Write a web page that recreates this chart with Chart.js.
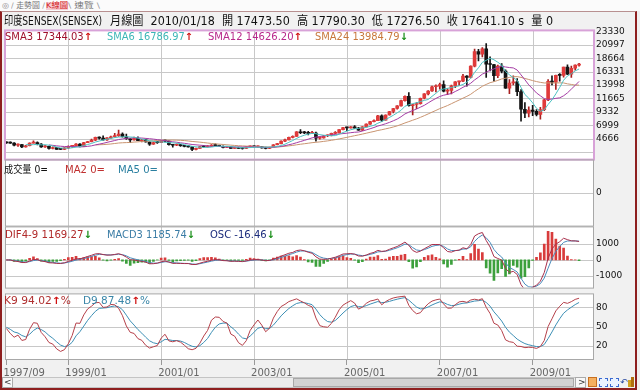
<!DOCTYPE html>
<html>
<head>
<meta charset="utf-8">
<script src="https://cdn.jsdelivr.net/npm/chart.js@4.4.1/dist/chart.umd.min.js"></script>
<style>
  body { margin: 0; width: 640px; height: 390px; position: relative; overflow: hidden; background: #f1f1f1;
         font-family: "DejaVu Sans", "Noto Sans CJK TC", sans-serif; }
  .t { position: absolute; white-space: pre; line-height: 1; }
  canvas { position: absolute; left: 0; }
  .box { position: absolute; box-sizing: border-box; }
</style>
</head>
<body>
<div class="box" style="left:0;top:0;width:640px;height:11px;background:#fbfbfb"></div>
<div class="box" style="left:0;top:11px;width:637px;height:379px;border:2px solid #8e1f1f;border-top:1px solid #b89090"></div>

<canvas id="c1" width="640" height="144" style="top:23px"></canvas>
<canvas id="c2" width="640" height="82" style="top:152px"></canvas>
<canvas id="c3" width="640" height="77" style="top:219px"></canvas>
<canvas id="c4" width="640" height="95" style="top:286px"></canvas>

<script>
// 月線 OHLC，1997/09 ~ 2010/01
const opens = [
  4075, 3943, 3900, 3550,
  3658, 3224, 3437, 3893, 4006, 3730, 3250, 3350, 2960, 3108, 2812, 2810,
  3055, 3315, 3400, 3740, 3320, 3976, 4141, 4420, 4900, 4765, 4444, 4800,
  5005, 5205, 5447, 5001, 4657, 4433, 4748, 4300, 4477, 4090, 3711, 3998,
  3972, 4326, 4247, 3604, 3519, 3632, 3457, 3329, 3245, 2811, 2989, 3287,
  3262, 3311, 3562, 3469, 3338, 3125, 3245, 2988, 3181, 2991, 2950, 3229,
  3377, 3250, 3283, 3049, 2960, 3181, 3607, 3792, 4245, 4453, 4906, 5044,
  5839, 5696, 5668, 5591, 5655, 4760, 4795, 5170, 5192, 5584, 5672, 6234,
  6603, 6556, 6714, 6493, 6154, 6715, 7194, 7635, 7805, 8634, 7892, 8789,
  9398, 9920, 10370, 11280, 12043, 10399, 10609, 10744, 11699, 12454, 12962, 13696,
  13787, 14091, 12938, 13072, 13872, 14544, 14651, 15551, 15319, 17291, 19838, 19363,
  20287, 17649, 17579, 15644, 17287, 16416, 13462, 14356, 14565, 12860, 9788, 9093,
  9647, 9424, 8892, 9709, 11403, 14625, 14494, 15670, 15667, 17127, 15896, 16926,
  17473.5
];
const highs = [
  4100, 4120, 3980, 3750,
  3700, 3500, 3950, 4281, 4100, 3800, 3520, 3370, 3250, 3150, 3000, 3100,
  3400, 3450, 3800, 3800, 4050, 4200, 4600, 4950, 5000, 5150, 4850, 5100,
  5600, 6150, 5700, 5450, 4700, 4950, 5000, 4560, 4600, 4100, 4100, 4200,
  4400, 4462, 4300, 3650, 3750, 3650, 3530, 3450, 3350, 3050, 3350, 3500,
  3480, 3650, 3760, 3550, 3400, 3300, 3300, 3200, 3200, 3050, 3250, 3420,
  3430, 3400, 3320, 3200, 3200, 3650, 3850, 4290, 4600, 4960, 5150, 5920,
  6250, 5950, 5950, 5930, 5800, 4980, 5250, 5350, 5620, 5900, 6250, 6650,
  6700, 6780, 6960, 6650, 6760, 7230, 7700, 7925, 8720, 8820, 8830, 9440,
  9950, 10430, 11360, 12100, 12670, 10650, 10950, 11750, 12500, 13050, 13800, 14030,
  14350, 14720, 13400, 14000, 14600, 14700, 15870, 15650, 17360, 20240, 20200, 20500,
  21206, 18900, 17600, 17480, 17735, 16630, 14950, 15580, 15100, 13200, 10950, 10190,
  10470, 9725, 10127, 11492, 14931, 15600, 15733, 16002, 17142, 17493, 17290, 17530,
  17790.3
];
const lows = [
  3830, 3850, 3390, 3300,
  3100, 3180, 3400, 3880, 3580, 3160, 3150, 2850, 2900, 2800, 2750, 2760,
  2950, 3150, 3350, 3250, 3300, 3950, 4100, 4300, 4600, 4400, 4350, 4700,
  4950, 5050, 4950, 4550, 3960, 4400, 4300, 4100, 4050, 3490, 3650, 3850,
  3950, 4100, 3550, 3180, 3450, 3300, 3250, 3200, 2600, 2720, 2950, 3170,
  3200, 3280, 3450, 3300, 3050, 3080, 2950, 2970, 2980, 2830, 2940, 3200,
  3220, 3200, 3030, 2900, 2930, 3170, 3580, 3760, 4160, 4440, 4800, 5040,
  5550, 5550, 5300, 5550, 4230, 4600, 4750, 5020, 5150, 5550, 5650, 6200,
  6070, 6500, 6430, 6100, 6080, 6700, 7130, 7580, 7800, 7650, 7870, 8770,
  9160, 9800, 10300, 11200, 10300, 8800, 9900, 10650, 11600, 12300, 12900, 12800,
  13300, 12800, 12320, 12450, 13550, 13950, 14600, 13780, 15250, 17140, 18180, 18900,
  15330, 16450, 14680, 15300, 16100, 13405, 12514, 14000, 12150, 7697, 8316, 8467,
  8674, 8619, 8047, 9546, 11300, 14016, 13220, 14685, 15357, 15805, 15330, 16578,
  17276.5
];
const closes = [
  3943, 3900, 3550, 3658,
  3224, 3437, 3893, 4006, 3730, 3250, 3350, 2960, 3108, 2812, 2810, 3055,
  3315, 3400, 3740, 3320, 3976, 4141, 4420, 4900, 4765, 4444, 4800, 5005,
  5205, 5447, 5001, 4657, 4433, 4748, 4300, 4477, 4090, 3711, 3998, 3972,
  4326, 4247, 3604, 3519, 3632, 3457, 3329, 3245, 2811, 2989, 3287, 3262,
  3311, 3562, 3469, 3338, 3125, 3245, 2988, 3181, 2991, 2950, 3229, 3377,
  3250, 3283, 3049, 2960, 3181, 3607, 3792, 4245, 4453, 4906, 5044, 5839,
  5696, 5668, 5591, 5655, 4760, 4795, 5170, 5192, 5584, 5672, 6234, 6603,
  6556, 6714, 6493, 6154, 6715, 7194, 7635, 7805, 8634, 7892, 8789, 9398,
  9920, 10370, 11280, 12043, 10399, 10609, 10744, 11699, 12454, 12962, 13696, 13787,
  14091, 12938, 13072, 13872, 14544, 14651, 15551, 15319, 17291, 19838, 19363, 20287,
  17649, 17579, 15644, 17287, 16416, 13462, 14356, 14565, 12860, 9788, 9093, 9647,
  9424, 8892, 9709, 11403, 14625, 14494, 15670, 15667, 17127, 15896, 16926, 17465,
  17641.1
];

const xTickIdx = [0, 16, 40, 64, 88, 112, 136];
const xTickText = ["1997/09", "1999/01", "2001/01", "2003/01", "2005/01", "2007/01", "2009/01"];
const priceTicks = [2333, 4666, 6999, 9332, 11665, 13998, 16331, 18664, 20997, 23330];
const volTicks = [0];
const macdTicks = [1000, 0, -1000];
const kdTicks = [80, 50, 20];

const X_MIN = -0.1, X_MAX = 151.6;
const gridColor = "#c8c8c8";

// 指標計算
function sma(arr, n) {
  return arr.map((v, i) => {
    if (i < n - 1) return null;
    let s = 0;
    for (let j = i - n + 1; j <= i; j++) s += arr[j];
    return s / n;
  });
}
function ema(arr, n) {
  const k = 2 / (n + 1);
  let prev;
  return arr.map((v, i) => (prev = i === 0 ? v : prev + k * (v - prev)));
}

const di = closes.map((c, i) => (highs[i] + lows[i] + 2 * c) / 4);
const ema4 = ema(di, 4), ema9 = ema(di, 9);
const dif = ema4.map((v, i) => v - ema9[i]);
const macd = ema(dif, 3);
const osc = dif.map((v, i) => v - macd[i]);

const kLine = [], dLine = [];
let k = 50, d = 50;
closes.forEach((c, i) => {
  const s = Math.max(0, i - 8);
  const hh = Math.max(...highs.slice(s, i + 1));
  const ll = Math.min(...lows.slice(s, i + 1));
  const rsv = hh === ll ? 50 : ((c - ll) / (hh - ll)) * 100;
  k = (k * 2) / 3 + rsv / 3;
  d = (d * 2) / 3 + k / 3;
  kLine.push(k);
  dLine.push(d);
});

const pts = (arr) => arr.map((v, i) => ({ x: i, y: v }));

// 面板外框（底色與格線放在畫布下方的 HTML 層）
const panelFrame = {
  id: "panelFrame",
  afterDraw(chart, args, opts) {
    const { ctx, chartArea: a } = chart;
    const w = opts.width || 1;
    ctx.save();
    ctx.strokeStyle = opts.color || "#a0a0a0";
    ctx.lineWidth = w;
    ctx.strokeRect(a.left - w / 2, a.top - w / 2, a.right - a.left + w, a.bottom - a.top + w);
    ctx.restore();
  },
};
Chart.register(panelFrame);
Chart.defaults.font.family = "'DejaVu Sans', sans-serif";
Chart.defaults.animation = false;
Chart.defaults.events = [];
Chart.defaults.plugins.legend.display = false;
Chart.defaults.plugins.tooltip.enabled = false;

function xAxis(labels) {
  return {
    type: "linear",
    min: X_MIN,
    max: X_MAX,
    offset: false,
    afterBuildTicks: (s) => {
      s.ticks = xTickIdx.map((v) => ({ value: v }));
    },
    afterFit: (s) => {
      s.height = labels ? 22 : 0;
    },
    grid: { display: labels, drawOnChartArea: false, offset: false, drawTicks: labels, tickLength: 6, tickColor: "#999" },
    border: { display: false },
    ticks: {
      display: labels,
      align: "start",
      labelOffset: -3,
      padding: 2,
      autoSkip: false,
      maxRotation: 0,
      color: "#666",
      font: { size: 10 },
      callback: (v) => xTickText[xTickIdx.indexOf(v)],
    },
  };
}

function yAxis(ticks, min, max, hideLabel) {
  return {
    position: "right",
    min: min,
    max: max,
    afterBuildTicks: (s) => {
      s.ticks = ticks.map((v) => ({ value: v }));
    },
    afterFit: (s) => {
      s.width = 47;
    },
    grid: { display: false, drawTicks: false },
    border: { display: false },
    ticks: {
      padding: 3,
      color: "#111",
      font: { size: 9 },
      callback: (v) => (hideLabel && hideLabel(v) ? "" : v),
    },
  };
}

function panelOptions(frame, bottomPad, scales) {
  return {
    responsive: false,
    layout: { padding: { left: 6, right: 0, top: 8, bottom: bottomPad } },
    plugins: { panelFrame: frame },
    scales: scales,
  };
}

// K線圖
const upDay = closes.map((c, i) => c >= opens[i]);
const priceChart = new Chart(document.getElementById("c1"), {
  type: "bar",
  data: {
    datasets: [
      {
        type: "line", data: pts(sma(closes, 6)), borderColor: "#4cc2c2",
        borderWidth: 1, pointRadius: 0, order: 0,
      },
      {
        type: "line", data: pts(sma(closes, 12)), borderColor: "#a43ca4",
        borderWidth: 1, pointRadius: 0, order: 0,
      },
      {
        type: "line", data: pts(sma(closes, 24)), borderColor: "#c99470",
        borderWidth: 1, pointRadius: 0, order: 0,
      },
      {
        data: closes.map((c, i) => ({ x: i, y: [opens[i], c] })),
        backgroundColor: upDay.map((u) => (u ? "#e03a3a" : "#141414")),
        barThickness: 3, minBarLength: 1, grouped: false, order: 1,
      },
      {
        data: highs.map((h, i) => ({ x: i, y: [lows[i], h] })),
        backgroundColor: upDay.map((u) => (u ? "#a82020" : "#141414")),
        barThickness: 1, grouped: false, order: 2,
      },
    ],
  },
  options: panelOptions({ color: "#d8a2d8", width: 2 }, 8, {
    x: xAxis(false),
    y: yAxis(priceTicks, 1200, 23330, (v) => v === 2333),
  }),
});

// 成交量
const volChart = new Chart(document.getElementById("c2"), {
  type: "line",
  data: { datasets: [] },
  options: panelOptions({ color: "#a8a8a8", width: 1 }, 8, {
    x: xAxis(false),
    y: yAxis(volTicks, -1, 1),
  }),
});

// MACD
const oscMax = Math.max(...osc.map(Math.abs));
const oscTop = (oscMax * 33) / 29;
const oscBottom = (-oscTop * 1750) / 2060;
const macdChart = new Chart(document.getElementById("c3"), {
  type: "bar",
  data: {
    datasets: [
      {
        type: "line", data: pts(dif), borderColor: "#a8304c",
        borderWidth: 1, pointRadius: 0, order: 0,
      },
      {
        type: "line", data: pts(macd), borderColor: "#4a8cbc",
        borderWidth: 1, pointRadius: 0, order: 0,
      },
      {
        data: pts(osc), yAxisID: "y2",
        backgroundColor: osc.map((v) => (v >= 0 ? "#d83c3c" : "#3ca03c")),
        barThickness: 2, grouped: false, order: 1,
      },
    ],
  },
  options: panelOptions({ color: "#a8a8a8", width: 1 }, 8, {
    x: xAxis(false),
    y: yAxis(macdTicks, -1750, 2060),
    y2: { display: false, min: oscBottom, max: oscTop },
  }),
});

// KD
const kdChart = new Chart(document.getElementById("c4"), {
  type: "line",
  data: {
    datasets: [
      { data: pts(kLine), borderColor: "#b5404a", borderWidth: 1, pointRadius: 0 },
      { data: pts(dLine), borderColor: "#3d8fb5", borderWidth: 1, pointRadius: 0 },
    ],
  },
  options: panelOptions({ color: "#a8a8a8", width: 1 }, 0, {
    x: xAxis(true),
    y: yAxis(kdTicks, 0, 100),
  }),
});

// 面板底色與格線：放在畫布之下，位置取自各圖的刻度
const firstCanvas = document.getElementById("c1");
function under(l, t, w, h, bg) {
  const el = document.createElement("div");
  el.className = "box";
  Object.assign(el.style, { left: l + "px", top: t + "px", width: w + "px", height: h + "px", background: bg });
  document.body.insertBefore(el, firstCanvas);
}
[[priceChart, priceTicks], [volChart, volTicks], [macdChart, macdTicks], [kdChart, kdTicks]].forEach(([ch, ticks]) => {
  const top0 = ch.canvas.offsetTop;
  const a = ch.chartArea;
  under(a.left, top0 + a.top, a.right - a.left, a.bottom - a.top, "#fff");
  xTickIdx.slice(1).forEach((v) => {
    const x = Math.round(ch.scales.x.getPixelForValue(v));
    under(x, top0 + a.top, 1, a.bottom - a.top, gridColor);
  });
  ticks.forEach((t) => {
    const y = Math.round(ch.scales.y.getPixelForValue(t));
    if (y > a.top + 1 && y < a.bottom - 1) under(a.left, top0 + y, a.right - a.left, 1, gridColor);
  });
});

// 文字
function label(parts, x, yc, size, width, extra) {
  const el = document.createElement("span");
  el.className = "t";
  el.style.left = x + "px";
  el.style.top = yc - size / 2 + "px";
  el.style.fontSize = size + "px";
  parts.forEach(([text, color, bold]) => {
    const s = document.createElement("span");
    s.textContent = text;
    s.style.color = color;
    if (bold) s.style.fontWeight = "bold";
    el.appendChild(s);
  });
  if (extra) Object.assign(el.style, extra);
  document.body.appendChild(el);
  if (width) {
    const w = el.getBoundingClientRect().width;
    el.style.transformOrigin = "left center";
    el.style.transform = "scaleX(" + width / w + ")";
  }
  return el;
}
const UP = "#d01010", DN = "#108a10";

// 分頁
label([["◎", "#888"]], 2, 6, 8, 0);
label([["/ ", "#999"], ["走勢圖", "#777"], [" /", "#999"]], 11, 6, 7.5, 34);
label([["K線圖", "#d42020"]], 46, 6, 7.5, 22, { background: "#f6cdd4" });
label([["\\ ", "#999"], ["速覽", "#777"], [" \\", "#999"]], 68, 6, 7.5, 32);

// 標題列
label([["印度SENSEX(SENSEX)", "#111"]], 4, 21, 12, 98);
label([["月線圖  2010/01/18  開 17473.50  高 17790.30  低 17276.50  收 17641.10 s  量 0", "#111"]], 110, 21, 12, 443);

// 價格面板圖例
label([["SMA3 17344.03", "#a0102c"], ["↑", UP, true]], 5, 37, 10, 87);
label([["SMA6 16786.97", "#3cb6b6"], ["↑", UP, true]], 107, 37, 10, 86);
label([["SMA12 14626.20", "#b8288c"], ["↑", UP, true]], 208, 37, 10, 94);
label([["SMA24 13984.79", "#c8783c"], ["↓", DN, true]], 315, 37, 10, 93);

// 成交量圖例
label([["成交量 ", "#111"], ["0=", "#111"]], 4, 169.5, 10, 44);
label([["MA2 0=", "#c03030"]], 65, 169.5, 10, 40);
label([["MA5 0=", "#2a7fa0"]], 118, 169.5, 10, 40);

// MACD 圖例
label([["DIF4-9 1169.27", "#b02a2a"], ["↓", DN, true]], 5, 235, 10, 87);
label([["MACD3 1185.74", "#3a7ca5"], ["↓", DN, true]], 107, 235, 10, 88);
label([["OSC -16.46", "#1c2c7c"], ["↓", DN, true]], 210, 235, 10, 65);

// KD 圖例
label([["K9 94.02", "#b03030"], ["↑", UP, true], ["%", "#b03030"]], 4, 301, 10, 67);
label([["D9 87.48", "#3a86a8"], ["↑", UP, true], ["%", "#3a86a8"]], 83, 301, 10, 67);

// 捲軸
const bar = (l, t, w, h, bg, bd) => {
  const el = document.createElement("div");
  el.className = "box";
  Object.assign(el.style, { left: l + "px", top: t + "px", width: w + "px", height: h + "px", background: bg, border: bd || "none" });
  document.body.appendChild(el);
};
bar(2, 377, 584, 11, "#ececec", "1px solid #c4c4c4");
bar(2, 377, 11, 11, "#f8f8f8", "1px solid #aaa");
bar(293, 378, 281, 9, "#d2d2d2", "1px solid #a8a8a8");
bar(575, 377, 11, 11, "#f8f8f8", "1px solid #aaa");
label([["<", "#333"]], 4, 382.5, 9, 0);
label([[">", "#333"]], 578, 382.5, 9, 0);
bar(588, 377, 9, 10, "#f5b060", "1px solid #c87020");
bar(599, 378, 9, 9, "#eaf2ff", "1px dashed #3a6ad0");
bar(610, 378, 9, 9, "#eaf2ff", "1px dashed #3a6ad0");
label([["↶", "#2a4aa0"]], 620, 382.5, 9, 0);
bar(628, 380, 3, 7, "#d0a020");
bar(631, 377, 3, 10, "#b07010");
</script>
</body>
</html>
